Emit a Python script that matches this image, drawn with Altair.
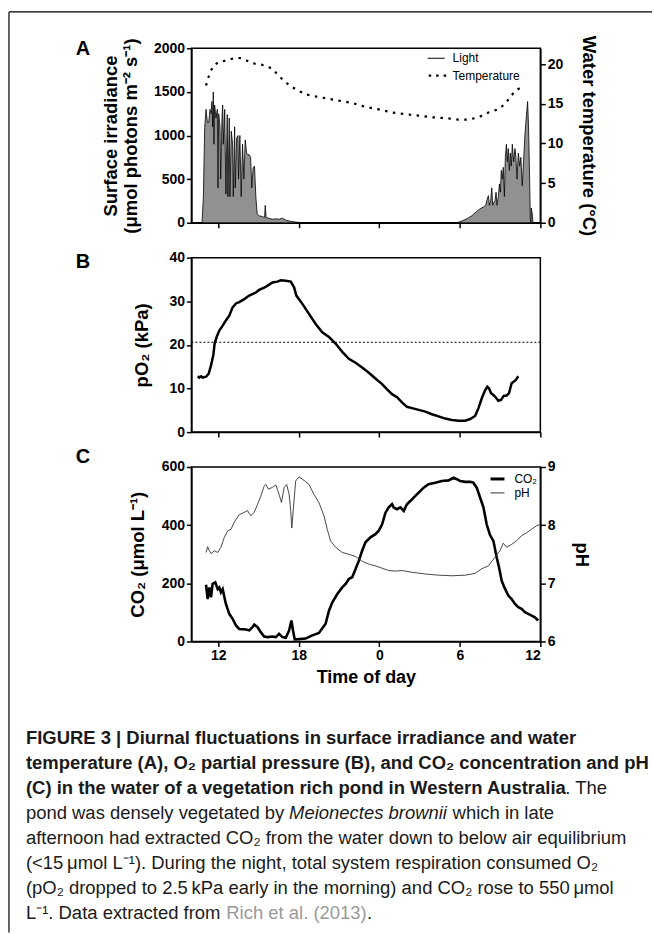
import altair as alt
import pandas as pd

FONT = "Liberation Sans"

# ---------------- data (hours since midnight of day 1; 24 = midnight) ----------------
light_t = [10.79, 10.89, 10.99, 11.09, 11.19, 11.29, 11.39, 11.46, 11.53, 11.58, 11.63, 11.68, 11.73,
           11.83, 11.93, 11.98, 12.03, 12.13, 12.18, 12.28, 12.33, 12.38, 12.48, 12.57, 12.67, 12.72,
           12.82, 12.87, 12.97, 13.07, 13.12, 13.22, 13.27, 13.37, 13.47, 13.51, 13.61, 13.71, 13.81,
           13.91, 14.01, 14.11, 14.21, 14.31, 14.41, 14.50, 14.60, 14.70, 14.80, 14.90, 15.05, 15.30,
           15.45, 15.50, 15.57, 15.79, 16.04, 16.29, 16.53, 16.78, 17.03, 17.28, 17.52, 17.77, 18.02,
           18.27,
           29.78, 30.15, 30.52, 30.89, 31.26, 31.51, 31.76, 31.93, 32.00, 32.13, 32.20, 32.30, 32.38,
           32.45, 32.52, 32.62, 32.70, 32.77, 32.87, 32.95, 33.02, 33.09, 33.17, 33.24, 33.32, 33.39,
           33.47, 33.54, 33.61, 33.69, 33.76, 33.84, 33.91, 34.01, 34.11, 34.18, 34.26, 34.36, 34.46,
           34.55, 34.65, 34.75, 34.85, 34.95, 35.05, 35.12, 35.20, 35.25, 35.30, 35.32, 35.40, 35.45]
light_v = [0, 290, 1090, 1300, 1150, 1150, 1300, 1250, 1390, 1100, 1500, 900, 1350,
           1200, 1300, 400, 1250, 1100, 500, 1200, 1350, 900, 1300, 330, 1240, 300,
           1200, 300, 1050, 900, 300, 1100, 400, 970, 1000, 500, 1000, 300, 900,
           500, 950, 800, 780, 780, 750, 400, 630, 650, 300, 100, 80, 70,
           60, 200, 60, 50, 40, 45, 40, 53, 30, 20, 15, 8, 3,
           0,
           0, 20, 45, 80, 130, 160, 180, 200, 250, 310, 200, 250, 400,
           200, 230, 250, 350, 200, 300, 445, 350, 600, 500, 635, 300, 750,
           900, 700, 850, 600, 800, 650, 900, 700, 850, 750, 500, 800, 650,
           750, 425, 700, 1010, 1200, 1390, 1100, 500, 50, 0, 170, 100, 0]

temp_t = [11.09, 11.26, 11.46, 11.71, 12.08, 12.45, 12.82, 13.32, 13.69, 14.06, 14.55, 15.05, 15.54,
          16.04, 16.53, 17.03, 17.52, 18.02, 18.51, 19.01, 20.00, 20.99, 21.98, 22.97, 23.96, 24.95,
          25.94, 26.93, 27.92, 28.91, 29.90, 30.64, 31.39, 32.13, 32.87, 33.37, 33.74, 34.11, 34.48, 34.85]
temp_v = [17.3, 18.3, 19.2, 19.9, 20.3, 20.4, 20.6, 20.8, 20.75, 20.5, 20.1, 20.0, 19.8,
          19.4, 18.5, 17.7, 17.1, 16.6, 16.2, 16.0, 15.7, 15.4, 15.1, 14.6, 14.3, 13.9,
          13.7, 13.5, 13.3, 13.2, 13.0, 13.0, 13.3, 13.9, 14.3, 15.0, 15.8, 16.6, 17.0, 17.1]

o2_t = [10.47, 10.59, 10.72, 10.84, 11.09, 11.29, 11.46, 11.63, 11.73, 11.88, 12.08, 12.33, 12.57,
        12.82, 13.07, 13.32, 13.56, 13.94, 14.31, 14.80, 15.05, 15.54, 16.04, 16.41, 16.66, 17.03,
        17.40, 17.65, 17.82, 18.27, 18.76, 19.26, 19.75, 20.25, 20.74, 21.24, 21.73, 22.23, 22.72,
        23.22, 23.71, 24.21, 24.58, 24.95, 25.32, 25.69, 26.06, 26.44, 26.93, 27.43, 27.92, 28.42,
        28.91, 29.41, 29.90, 30.40, 30.77, 31.14, 31.39, 31.63, 31.88, 32.05, 32.18, 32.33, 32.50,
        32.67, 32.87, 33.07, 33.27, 33.49, 33.66, 33.86, 34.16, 34.36]
o2_v = [12.8, 12.5, 12.8, 12.5, 12.7, 13.4, 15.3, 17.6, 20.3, 21.8, 23.3, 24.4, 25.6,
        26.7, 28.6, 29.5, 29.8, 30.5, 31.3, 32.0, 32.6, 33.3, 34.3, 34.5, 34.8, 34.7,
        34.5, 33.2, 31.3, 29.4, 27.1, 24.8, 22.9, 21.8, 20.3, 18.4, 16.8, 15.9, 14.8,
        13.6, 12.3, 11.0, 9.8, 8.7, 8.0, 6.8, 5.8, 5.5, 5.1, 4.7, 4.1, 3.6,
        3.1, 2.8, 2.6, 2.6, 3.0, 3.7, 5.5, 7.7, 9.6, 10.4, 10.0, 8.9, 8.5,
        8.0, 7.2, 7.4, 8.3, 8.4, 8.9, 11.2, 11.9, 12.8]
o2_air = [20.6]

co2_t = [11.09, 11.21, 11.34, 11.46, 11.58, 11.78, 11.96, 12.08, 12.20, 12.33, 12.57, 12.82, 13.07,
         13.32, 13.56, 14.06, 14.31, 14.55, 14.68, 14.93, 15.17, 15.42, 15.67, 16.04, 16.29, 16.53,
         16.78, 17.03, 17.28, 17.45, 17.57, 17.70, 18.02, 18.51, 19.01, 19.50, 20.00, 20.25, 20.50,
         20.87, 21.24, 21.49, 21.73, 21.98, 22.23, 22.48, 22.72, 22.97, 23.34, 23.71, 23.96, 24.21,
         24.46, 24.70, 24.95, 25.07, 25.32, 25.57, 25.82, 26.06, 26.31, 26.56, 26.93, 27.30, 27.67,
         28.17, 28.66, 29.16, 29.53, 29.78, 30.02, 30.40, 30.77, 31.01, 31.26, 31.51, 31.76, 32.00,
         32.25, 32.50, 32.75, 32.92, 33.12, 33.32, 33.61, 33.86, 34.11, 34.36, 34.60, 34.85, 35.10,
         35.35, 35.59, 35.84]
co2_v = [195, 146, 186, 152, 198, 203, 180, 186, 169, 180, 129, 95, 78,
         55, 43, 41, 38, 49, 58, 49, 32, 17, 15, 17, 15, 26,
         15, 13, 38, 72, 38, 7, 8, 10, 21, 29, 61, 106, 135,
         163, 186, 198, 215, 221, 249, 278, 312, 341, 358, 369, 381, 403,
         443, 461, 472, 461, 455, 461, 449, 472, 483, 495, 512, 529, 541,
         546, 552, 554, 563, 558, 552, 549, 549, 546, 529, 495, 461, 403,
         366, 346, 289, 255, 209, 186, 158, 146, 129, 118, 112, 101, 95,
         89, 83, 72]

ph_t = [11.09, 11.21, 11.34, 11.46, 11.71, 11.96, 12.20, 12.45, 12.70, 12.95, 13.19, 13.56, 13.94,
        14.18, 14.43, 14.68, 14.93, 15.17, 15.42, 15.54, 15.74, 16.04, 16.29, 16.53, 16.71, 16.91,
        17.10, 17.28, 17.40, 17.48, 17.60, 17.77, 18.02, 18.39, 18.76, 19.13, 19.50, 19.88, 20.12,
        20.37, 20.74, 21.24, 21.73, 22.23, 22.72, 23.22, 23.71, 24.21, 24.70, 25.20, 25.69, 26.44,
        27.43, 28.42, 29.41, 30.40, 31.14, 31.63, 32.13, 32.62, 32.99, 33.24, 33.49, 33.86, 34.23,
        34.60, 34.98, 35.35, 35.72, 35.97]
ph_v = [7.53, 7.63, 7.56, 7.51, 7.56, 7.53, 7.62, 7.79, 7.90, 7.93, 8.05, 8.18, 8.22,
        8.25, 8.16, 8.22, 8.36, 8.50, 8.67, 8.70, 8.62, 8.65, 8.69, 8.53, 8.39, 8.65,
        8.70, 8.53, 8.25, 7.95, 8.30, 8.76, 8.83, 8.77, 8.70, 8.53, 8.39, 8.16, 7.93,
        7.73, 7.62, 7.53, 7.50, 7.46, 7.38, 7.33, 7.30, 7.26, 7.22, 7.21, 7.22, 7.19,
        7.16, 7.14, 7.13, 7.14, 7.17, 7.25, 7.30, 7.45, 7.56, 7.69, 7.62, 7.67, 7.73,
        7.82, 7.87, 7.93, 7.99, 8.01]

x_ticks = [12, 18, 24, 30, 36]
irr_ticks = [0, 500, 1000, 1500, 2000]
temp_ticks = [0, 5, 10, 15, 20]
o2_ticks = [0, 10, 20, 30, 40]
co2_ticks = [0, 200, 400, 600]
ph_ticks = [6, 7, 8, 9]

W, H = 350, 175
one = pd.DataFrame({"k": [0]})


def xenc(show):
    if show:
        ax = alt.Axis(values=x_ticks, labelExpr="datum.value % 24", titlePadding=6,
                      titleFontSize=18)
        return alt.X("t:Q", scale=alt.Scale(domain=[10, 36], nice=False, zero=False),
                     axis=ax, title="Time of day")
    ax = alt.Axis(values=x_ticks, labels=False)
    return alt.X("t:Q", scale=alt.Scale(domain=[10, 36], nice=False, zero=False),
                 axis=ax, title=None)


def txt(s, x, y, size=12, weight="normal", style="normal", color="black", align="left"):
    return alt.Chart(one).mark_text(font=FONT, fontSize=size, fontWeight=weight,
                                    fontStyle=style, color=color, align=align,
                                    baseline="middle").encode(
        x=alt.value(x), y=alt.value(y), text=alt.value(s))


def hline(x1, x2, y, width=1.0, color="black", dash=None):
    kw = dict(color=color, strokeWidth=width)
    if dash:
        kw["strokeDash"] = dash
    return alt.Chart(one).mark_rule(**kw).encode(x=alt.value(x1), x2=alt.value(x2), y=alt.value(y))


def vline(x, y1, y2, width=1.0, color="black"):
    return alt.Chart(one).mark_rule(color=color, strokeWidth=width).encode(
        x=alt.value(x), y=alt.value(y1), y2=alt.value(y2))


# ---------------- panel A ----------------
df_light = pd.DataFrame({"t": light_t, "irr": light_v})
df_temp = pd.DataFrame({"t": temp_t, "temp": temp_v})

area = alt.Chart(df_light).mark_area(
    color="#636363", line={"color": "black", "strokeWidth": 0.8}
).encode(
    x=xenc(False),
    y=alt.Y("irr:Q", scale=alt.Scale(domain=[0, 2000], nice=False),
            axis=alt.Axis(values=irr_ticks, format="d", titlePadding=13, titleLineHeight=20),
            title=["Surface irradiance", "(μmol photons m⁻² s⁻¹)"]),
)
temp = alt.Chart(df_temp).mark_line(
    color="black", strokeWidth=2.2, strokeDash=[2.5, 5.5]
).encode(
    x=xenc(False),
    y=alt.Y("temp:Q", scale=alt.Scale(domain=[0, 22], nice=False),
            axis=alt.Axis(orient="right", values=temp_ticks, format="d", titlePadding=16),
            title="Water temperature (°C)"),
)

panel_a = alt.layer(
    area, temp,
    hline(237, 254, 10, 1.0),
    txt("Light", 262, 10),
    hline(238, 256, 27.5, 2.2, dash=[2.5, 5]),
    txt("Temperature", 262, 27.5),
    txt("A", -116, 1, size=20, weight="bold"),
    hline(-183, 462, -36.5, 1.2),
    vline(-183, -36.5, 887, 1.2),
).resolve_scale(y="independent").properties(width=W, height=H)

# ---------------- panel B ----------------
df_o2 = pd.DataFrame({"t": o2_t, "o2": o2_v})
o2_line = alt.Chart(df_o2).mark_line(color="black", strokeWidth=2.5).encode(
    x=xenc(False),
    y=alt.Y("o2:Q", scale=alt.Scale(domain=[0, 40], nice=False),
            axis=alt.Axis(values=o2_ticks, format="d", titlePadding=17), title="pO₂ (kPa)"),
)
o2_eq = alt.Chart(pd.DataFrame({"o2": o2_air})).mark_rule(
    color="black", strokeWidth=1, strokeDash=[2, 2]).encode(y="o2:Q")

panel_b = alt.layer(
    o2_eq, o2_line,
    txt("B", -116, 4.5, size=20, weight="bold"),
).properties(width=W, height=H)

# ---------------- panel C ----------------
df_co2 = pd.DataFrame({"t": co2_t, "co2": co2_v})
df_ph = pd.DataFrame({"t": ph_t, "ph": ph_v})

co2_line = alt.Chart(df_co2).mark_line(color="black", strokeWidth=2.6).encode(
    x=xenc(True),
    y=alt.Y("co2:Q", scale=alt.Scale(domain=[0, 600], nice=False),
            axis=alt.Axis(values=co2_ticks, format="d", titlePadding=14), title="CO₂ (μmol L⁻¹)"),
)
ph_line = alt.Chart(df_ph).mark_line(color="#333333", strokeWidth=0.9).encode(
    x=xenc(True),
    y=alt.Y("ph:Q", scale=alt.Scale(domain=[6, 9], nice=False, zero=False),
            axis=alt.Axis(orient="right", values=ph_ticks, format="d", titlePadding=16), title="pH"),
)

CX = -166  # caption left edge relative to panel C plot origin
CAP = 18.5
INK = "#1a1a1a"
L = [272, 297, 322, 347, 372, 397, 422, 447]
caption = [
    txt("FIGURE 3 | Diurnal fluctuations in surface irradiance and water", CX, L[0], CAP, "bold", color=INK),
    txt("temperature (A), O₂ partial pressure (B), and CO₂ concentration and pH", CX, L[1], CAP, "bold", color=INK),
    txt("(C) in the water of a vegetation rich pond in Western Australia", CX, L[2], CAP, "bold", color=INK),
    txt(". The", CX + 541, L[2], CAP, color=INK),
    txt("pond was densely vegetated by", CX, L[3], CAP, color=INK),
    txt("Meionectes brownii", CX + 264, L[3], CAP, style="italic", color=INK),
    txt("which in late", CX + 428, L[3], CAP, color=INK),
    txt("afternoon had extracted CO₂ from the water down to below air equilibrium", CX, L[4], CAP, color=INK),
    txt("(<15\u2009μmol L⁻¹). During the night, total system respiration consumed O₂", CX, L[5], CAP, color=INK),
    txt("(pO₂ dropped to 2.5\u2009kPa early in the morning) and CO₂ rose to 550\u2009μmol", CX, L[6], CAP, color=INK),
    txt("L⁻¹. Data extracted from", CX, L[7], CAP, color=INK),
    txt("Rich et al. (2013)", CX + 201, L[7], CAP, color="#9a9a9a"),
    txt(".", CX + 342, L[7], CAP, color=INK),
]

panel_c = alt.layer(
    co2_line, ph_line,
    hline(300, 314, 12, 3.0),
    txt("CO₂", 324, 12),
    hline(300, 314, 26, 1.0, color="#333333"),
    txt("pH", 324, 26),
    txt("C", -116, -10.5, size=20, weight="bold"),
    *caption,
).resolve_scale(y="independent").properties(width=W, height=H)

chart = alt.vconcat(panel_a, panel_b, panel_c, spacing=35, bounds="flush").properties(
    padding={"left": 7, "top": 9, "right": 0, "bottom": 0}
).configure_view(
    stroke="black", strokeWidth=1.5
).configure_axis(
    grid=False, domainColor="black", domainWidth=1.5, tickColor="black", tickWidth=1.5,
    tickSize=5, labelPadding=2, labelFont=FONT, labelFontSize=14, labelFontWeight="bold",
    labelColor="black", titleFont=FONT, titleFontSize=18.5, titleFontWeight="bold",
    titleColor="black",
)

chart.save("out.html", embed_options={"renderer": "svg", "actions": False})
